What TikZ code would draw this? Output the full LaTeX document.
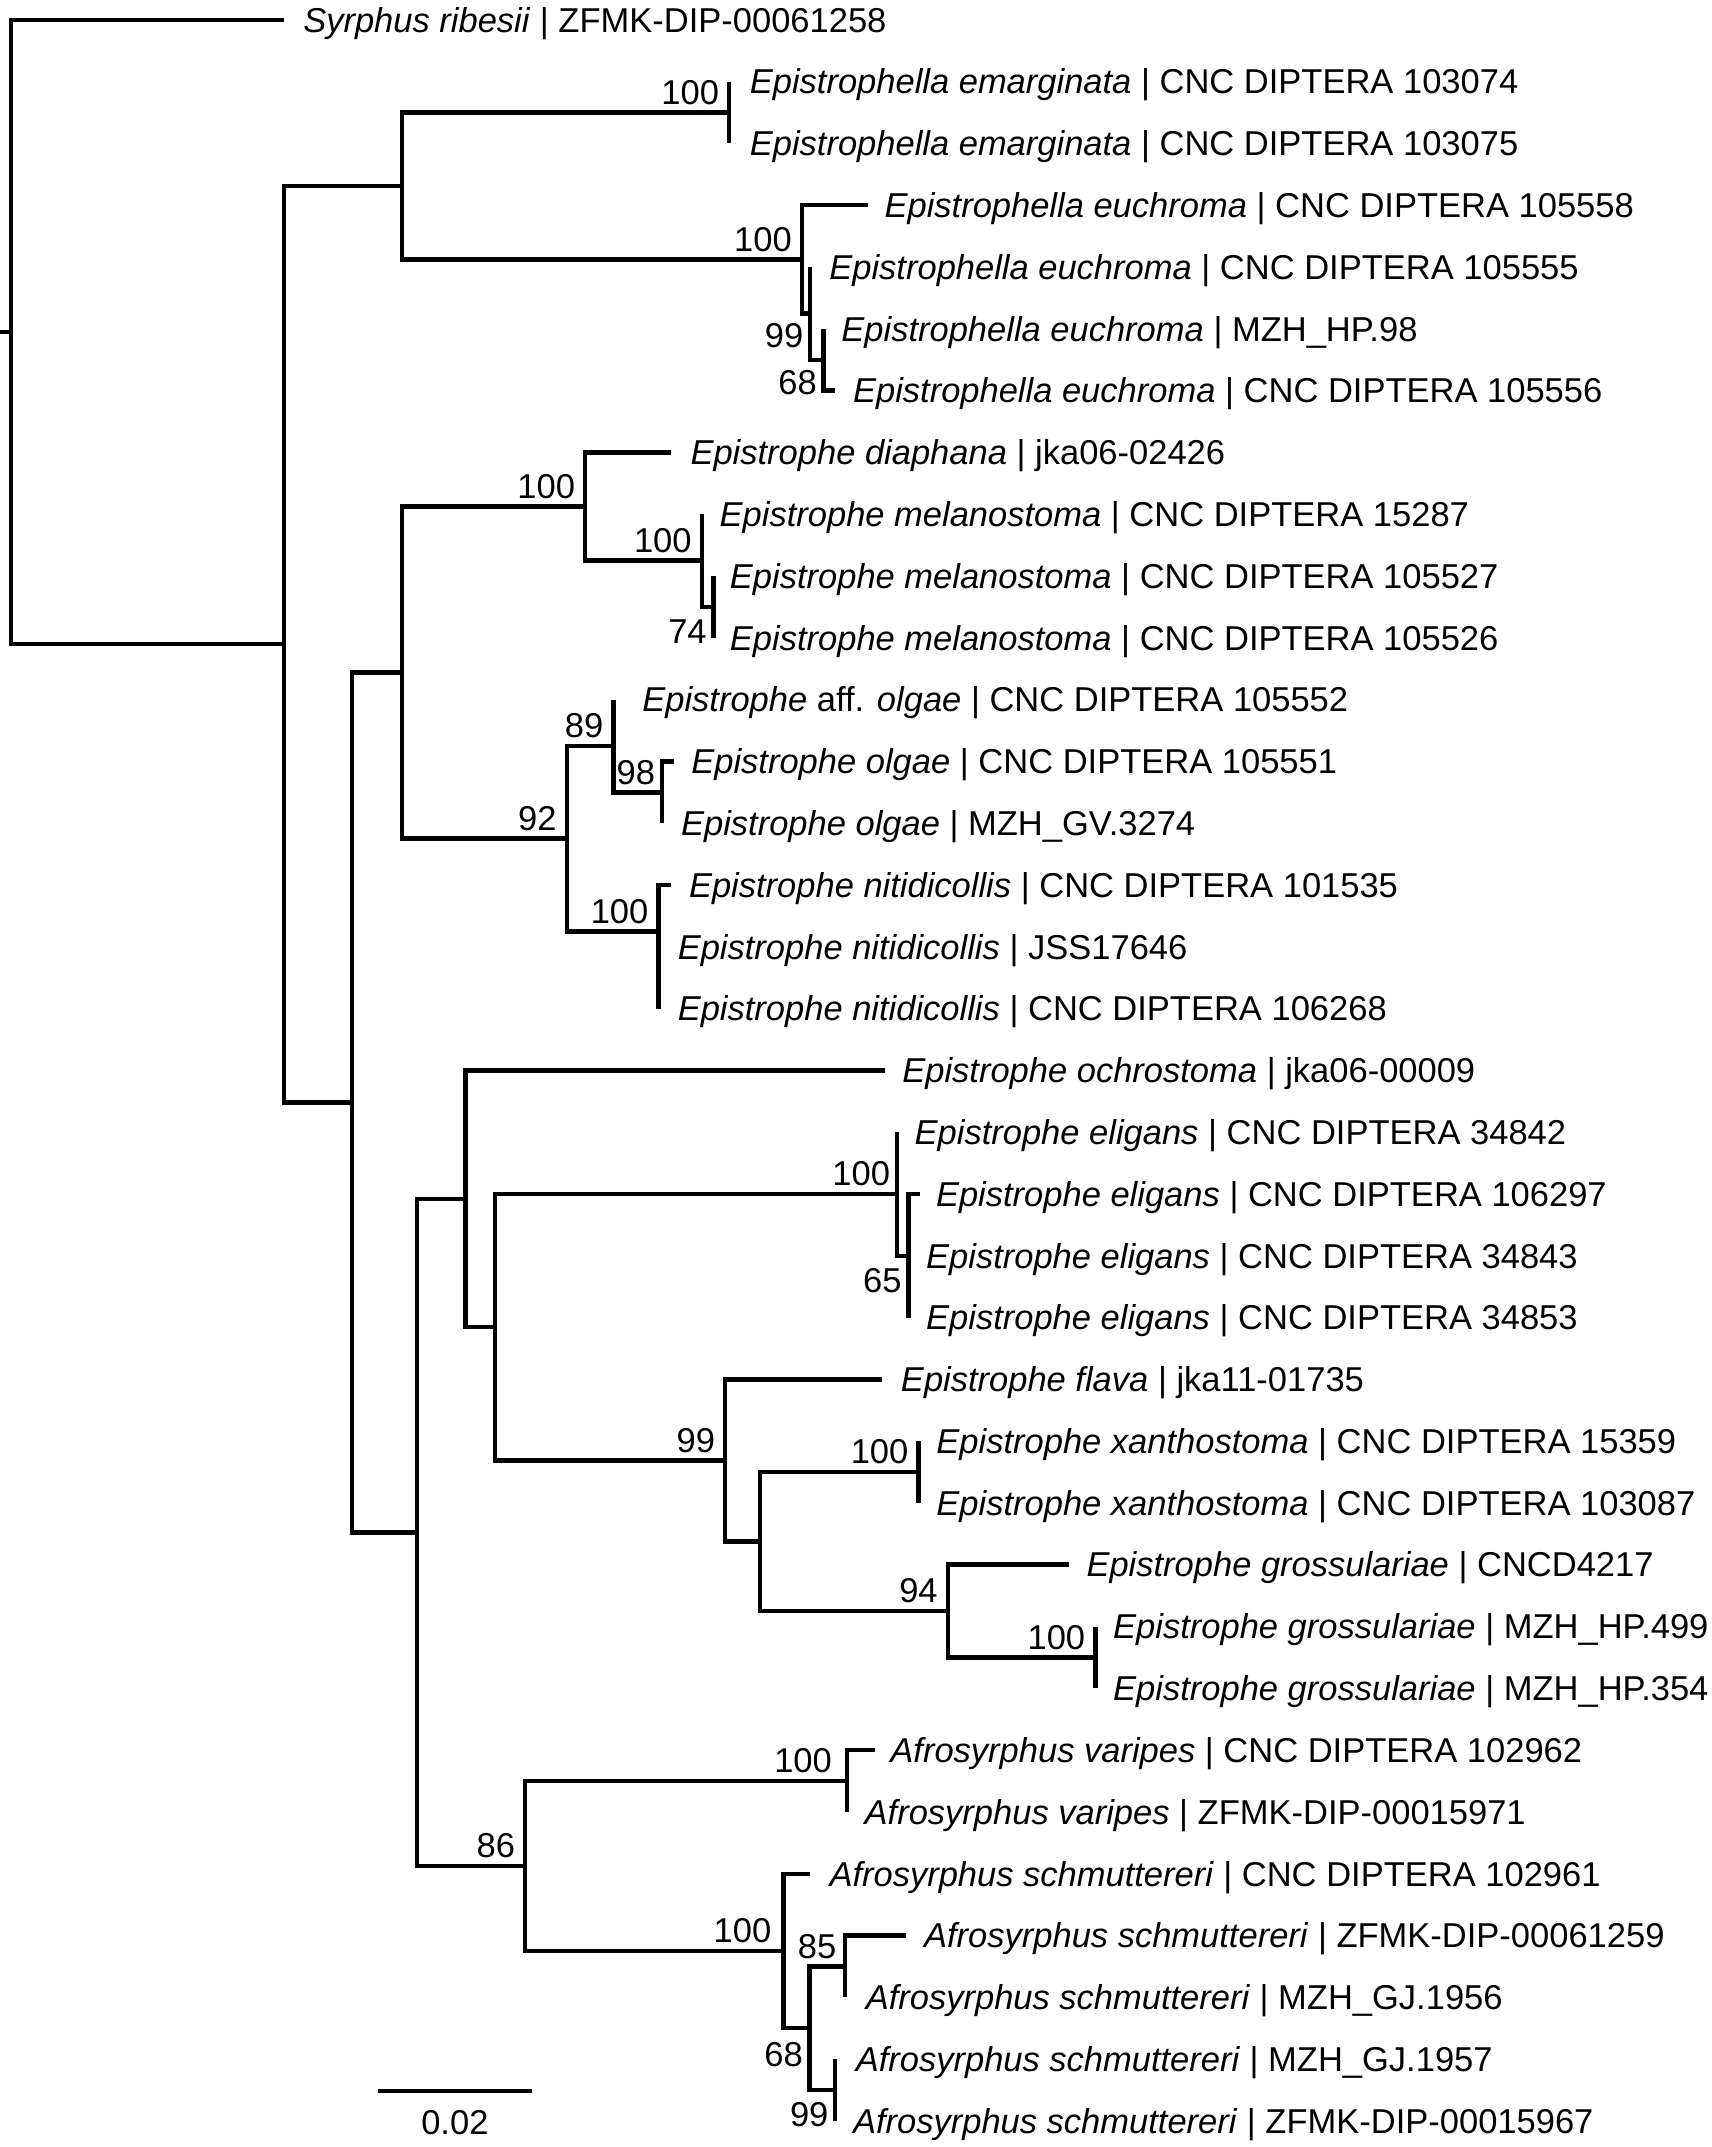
\documentclass[tikz,border=0pt]{standalone}
\usepackage{fontspec}
\setmainfont{Liberation Sans}
\usetikzlibrary{positioning}

\begin{document}
\begin{tikzpicture}[
    x=1pt, y=-1pt,
    every node/.style={font=\fontsize{25.2pt}{30pt}\selectfont, inner sep=0pt, outer sep=0pt},
    taxon/.style={
        text height=18pt,
        text depth=0pt
    },
    support/.style={
        text height=18pt,
        text depth=0pt
    },
    branch/.style={
        line width=3.2pt
    },
    scalebar/.style={
        line width=2.6pt
    }
]
\useasboundingbox (0,0) rectangle (1250,1568);

% --- tips ---
\coordinate (syr) at (207.5,14.5);
\coordinate (ema1) at (532.6,59.6);
\coordinate (ema2) at (532.6,104.8);
\coordinate (euc1) at (634,149.9);
\coordinate (euc2) at (591.7,195.0);
\coordinate (euc3) at (601.5,240.2);
\coordinate (euc4) at (610,285.3);
\coordinate (dia) at (490.3,330.4);
\coordinate (mel1) at (512.6,375.5);
\coordinate (mel2) at (521.1,420.7);
\coordinate (mel3) at (521.1,465.8);
\coordinate (aff) at (448.1,510.9);
\coordinate (olg1) at (491.9,556.1);
\coordinate (olg2) at (483.4,601.2);
\coordinate (nit1) at (490.2,646.3);
\coordinate (nit2) at (481,691.5);
\coordinate (nit3) at (481,736.6);
\coordinate (och) at (646,781.7);
\coordinate (eli1) at (655,826.8);
\coordinate (eli2) at (671.6,872.0);
\coordinate (eli3) at (663.4,917.1);
\coordinate (eli4) at (663.4,962.2);
\coordinate (fla) at (644,1007.4);
\coordinate (xan1) at (670.9,1052.5);
\coordinate (xan2) at (670.9,1097.6);
\coordinate (gro1) at (780.5,1142.7);
\coordinate (gro2) at (800,1187.9);
\coordinate (gro3) at (800,1233.0);
\coordinate (var1) at (639.3,1278.1);
\coordinate (var2) at (618.5,1323.3);
\coordinate (sch1) at (591.8,1368.4);
\coordinate (sch2) at (661.9,1413.5);
\coordinate (sch3) at (617.3,1458.6);
\coordinate (sch4) at (610,1503.8);
\coordinate (sch5) at (610,1548.9);

% --- inner nodes ---
\coordinate (rootstub) at (0,242.5);
\coordinate (root) at (8,242.5);
\coordinate (ingroup) at (207.5,470.5);
\coordinate (ellanode) at (293.4,135.8);
\coordinate (emanode) at (532.6,82.2);
\coordinate (eucnode) at (585.7,189.4);
\coordinate (euc99) at (591.7,228.9);
\coordinate (euc68) at (601.5,262.75);
\coordinate (crownnode) at (257,805.15);
\coordinate (ephnode) at (293.4,491.2);
\coordinate (dianode) at (427.4,369.9);
\coordinate (melnode) at (512.6,409.4);
\coordinate (mel74) at (521.1,443.25);
\coordinate (olg92) at (414,612.5);
\coordinate (olg89) at (448.1,544.8);
\coordinate (olg98) at (483.4,578.65);
\coordinate (nitnode) at (481,680.2);
\coordinate (nitinner) at (481,714.05);
\coordinate (lowernode) at (304.5,1119.1);
\coordinate (ochnode) at (340,875.5);
\coordinate (eliflanode) at (361.5,969.3);
\coordinate (eli100) at (655,871.95);
\coordinate (eli65) at (663.4,917.1);
\coordinate (fla99) at (529.7,1066.6);
\coordinate (xangro) at (555.2,1125.8);
\coordinate (xan100) at (670.9,1075.05);
\coordinate (gro94) at (692.3,1176.6);
\coordinate (gro100) at (800,1210.45);
\coordinate (afro86) at (383.6,1362.75);
\coordinate (var100) at (618.5,1300.7);
\coordinate (sch100) at (572.3,1424.8);
\coordinate (sch68) at (591.3,1481.2);
\coordinate (sch85) at (617.3,1436.05);
\coordinate (sch99) at (610,1526.35);

% --- branches ---
\draw [branch] (rootstub) -- (root);
\draw [branch] (syr) -| (root) |- (ingroup);
\draw [branch] (ellanode) -| (ingroup) |- (crownnode);
\draw [branch] (emanode) -| (ellanode) |- (eucnode);
\draw [branch] (ema1) -| (emanode) |- (ema2);
\draw [branch] (euc1) -| (eucnode) |- (euc99);
\draw [branch] (euc2) -| (euc99) |- (euc68);
\draw [branch] (euc3) -| (euc68) |- (euc4);
\draw [branch] (ephnode) -| (crownnode) |- (lowernode);
\draw [branch] (dianode) -| (ephnode) |- (olg92);
\draw [branch] (dia) -| (dianode) |- (melnode);
\draw [branch] (mel1) -| (melnode) |- (mel74);
\draw [branch] (mel2) -| (mel74) |- (mel3);
\draw [branch] (olg89) -| (olg92) |- (nitnode);
\draw [branch] (aff) -| (olg89) |- (olg98);
\draw [branch] (olg1) -| (olg98) |- (olg2);
\draw [branch] (nit1) -| (nitnode) |- (nitinner);
\draw [branch] (nit2) -| (nitinner) |- (nit3);
\draw [branch] (ochnode) -| (lowernode) |- (afro86);
\draw [branch] (och) -| (ochnode) |- (eliflanode);
\draw [branch] (eli100) -| (eliflanode) |- (fla99);
\draw [branch] (eli1) -| (eli100) |- (eli65);
\draw [branch] (eli2) -| (eli65) |- (eli4);
\draw [branch] (fla) -| (fla99) |- (xangro);
\draw [branch] (xan100) -| (xangro) |- (gro94);
\draw [branch] (xan1) -| (xan100) |- (xan2);
\draw [branch] (gro1) -| (gro94) |- (gro100);
\draw [branch] (gro2) -| (gro100) |- (gro3);
\draw [branch] (var100) -| (afro86) |- (sch100);
\draw [branch] (var1) -| (var100) |- (var2);
\draw [branch] (sch1) -| (sch100) |- (sch68);
\draw [branch] (sch85) -| (sch68) |- (sch99);
\draw [branch] (sch2) -| (sch85) |- (sch3);
\draw [branch] (sch4) -| (sch99) |- (sch5);

% --- tip labels ---
\node (syrlab) [taxon, right=14pt of syr] {\textit{Syrphus ribesii} | ZFMK-DIP-00061258};
\node (ema1lab) [taxon, right=15pt of ema1] {\textit{Epistrophella emarginata} | CNC DIPTERA 103074};
\node (ema2lab) [taxon, right=15pt of ema2] {\textit{Epistrophella emarginata} | CNC DIPTERA 103075};
\node (euc1lab) [taxon, right=12pt of euc1] {\textit{Epistrophella euchroma} | CNC DIPTERA 105558};
\node (euc2lab) [taxon, right=14pt of euc2] {\textit{Epistrophella euchroma} | CNC DIPTERA 105555};
\node (euc3lab) [taxon, right=13pt of euc3] {\textit{Epistrophella euchroma} | MZH\_HP.98};
\node (euc4lab) [taxon, right=13pt of euc4] {\textit{Epistrophella euchroma} | CNC DIPTERA 105556};
\node (dialab) [taxon, right=14pt of dia] {\textit{Epistrophe diaphana} | jka06-02426};
\node (mel1lab) [taxon, right=13pt of mel1] {\textit{Epistrophe melanostoma} | CNC DIPTERA 15287};
\node (mel2lab) [taxon, right=12pt of mel2] {\textit{Epistrophe melanostoma} | CNC DIPTERA 105527};
\node (mel3lab) [taxon, right=12pt of mel3] {\textit{Epistrophe melanostoma} | CNC DIPTERA 105526};
\node (afflab) [taxon, right=21pt of aff] {\textit{Epistrophe} aff. \textit{olgae} | CNC DIPTERA 105552};
\node (olg1lab) [taxon, right=13pt of olg1] {\textit{Epistrophe olgae} | CNC DIPTERA 105551};
\node (olg2lab) [taxon, right=14pt of olg2] {\textit{Epistrophe olgae} | MZH\_GV.3274};
\node (nit1lab) [taxon, right=13pt of nit1] {\textit{Epistrophe nitidicollis} | CNC DIPTERA 101535};
\node (nit2lab) [taxon, right=14pt of nit2] {\textit{Epistrophe nitidicollis} | JSS17646};
\node (nit3lab) [taxon, right=14pt of nit3] {\textit{Epistrophe nitidicollis} | CNC DIPTERA 106268};
\node (ochlab) [taxon, right=13pt of och] {\textit{Epistrophe ochrostoma} | jka06-00009};
\node (eli1lab) [taxon, right=13pt of eli1] {\textit{Epistrophe eligans} | CNC DIPTERA 34842};
\node (eli2lab) [taxon, right=12pt of eli2] {\textit{Epistrophe eligans} | CNC DIPTERA 106297};
\node (eli3lab) [taxon, right=13pt of eli3] {\textit{Epistrophe eligans} | CNC DIPTERA 34843};
\node (eli4lab) [taxon, right=13pt of eli4] {\textit{Epistrophe eligans} | CNC DIPTERA 34853};
\node (flalab) [taxon, right=14pt of fla] {\textit{Epistrophe flava} | jka11-01735};
\node (xan1lab) [taxon, right=13pt of xan1] {\textit{Epistrophe xanthostoma} | CNC DIPTERA 15359};
\node (xan2lab) [taxon, right=13pt of xan2] {\textit{Epistrophe xanthostoma} | CNC DIPTERA 103087};
\node (gro1lab) [taxon, right=13pt of gro1] {\textit{Epistrophe grossulariae} | CNCD4217};
\node (gro2lab) [taxon, right=13pt of gro2] {\textit{Epistrophe grossulariae} | MZH\_HP.499};
\node (gro3lab) [taxon, right=13pt of gro3] {\textit{Epistrophe grossulariae} | MZH\_HP.354};
\node (var1lab) [taxon, right=11pt of var1] {\textit{Afrosyrphus varipes} | CNC DIPTERA 102962};
\node (var2lab) [taxon, right=13pt of var2] {\textit{Afrosyrphus varipes} | ZFMK-DIP-00015971};
\node (sch1lab) [taxon, right=14pt of sch1] {\textit{Afrosyrphus schmuttereri} | CNC DIPTERA 102961};
\node (sch2lab) [taxon, right=13pt of sch2] {\textit{Afrosyrphus schmuttereri} | ZFMK-DIP-00061259};
\node (sch3lab) [taxon, right=15pt of sch3] {\textit{Afrosyrphus schmuttereri} | MZH\_GJ.1956};
\node (sch4lab) [taxon, right=15pt of sch4] {\textit{Afrosyrphus schmuttereri} | MZH\_GJ.1957};
\node (sch5lab) [taxon, right=13pt of sch5] {\textit{Afrosyrphus schmuttereri} | ZFMK-DIP-00015967};

% --- bootstrap values ---
\node (bsema) [support, above left=6pt and 7.5pt of emanode] {100};
\node (bseuc) [support, above left=6pt and 7.5pt of eucnode] {100};
\node (bseuc99) [support, below left=7pt and 5pt of euc99] {99};
\node (bseuc68) [support, below left=7pt and 5pt of euc68] {68};
\node (bsdia) [support, above left=6pt and 7.5pt of dianode] {100};
\node (bsmel) [support, above left=6pt and 7.5pt of melnode] {100};
\node (bsmel74) [support, below left=9pt and 5pt of mel74] {74};
\node (bsolg92) [support, above left=6pt and 7.5pt of olg92] {92};
\node (bsolg89) [support, above left=6pt and 7.5pt of olg89] {89};
\node (bsolg98) [support, above left=6pt and 5pt of olg98] {98};
\node (bsnit) [support, above left=6pt and 7.5pt of nitnode] {100};
\node (bseli) [support, above left=6pt and 5pt of eli100] {100};
\node (bseli65) [support, below left=9pt and 5pt of eli65] {65};
\node (bsfla) [support, above left=6pt and 7.5pt of fla99] {99};
\node (bsxan) [support, above left=6pt and 7.5pt of xan100] {100};
\node (bsgro94) [support, above left=6pt and 7.5pt of gro94] {94};
\node (bsgro) [support, above left=6pt and 7.5pt of gro100] {100};
\node (bsafro) [support, above left=6pt and 7.5pt of afro86] {86};
\node (bsvar) [support, above left=6pt and 11pt of var100] {100};
\node (bssch) [support, above left=6pt and 9pt of sch100] {100};
\node (bssch85) [support, above left=6pt and 6.5pt of sch85] {85};
\node (bssch68) [support, below left=10pt and 5pt of sch68] {68};
\node (bssch99) [support, below left=9pt and 5pt of sch99] {99};

% --- scale bar ---
\coordinate (sbleft) at (276,1527);
\coordinate (sbright) at (388.4,1527);
\coordinate (sbmid) at (332.2,1527);
\draw [scalebar] (sbleft) -- (sbright);
\node (sblab) [support, below=14pt of sbmid] {0.02};

\end{tikzpicture}
\end{document}
